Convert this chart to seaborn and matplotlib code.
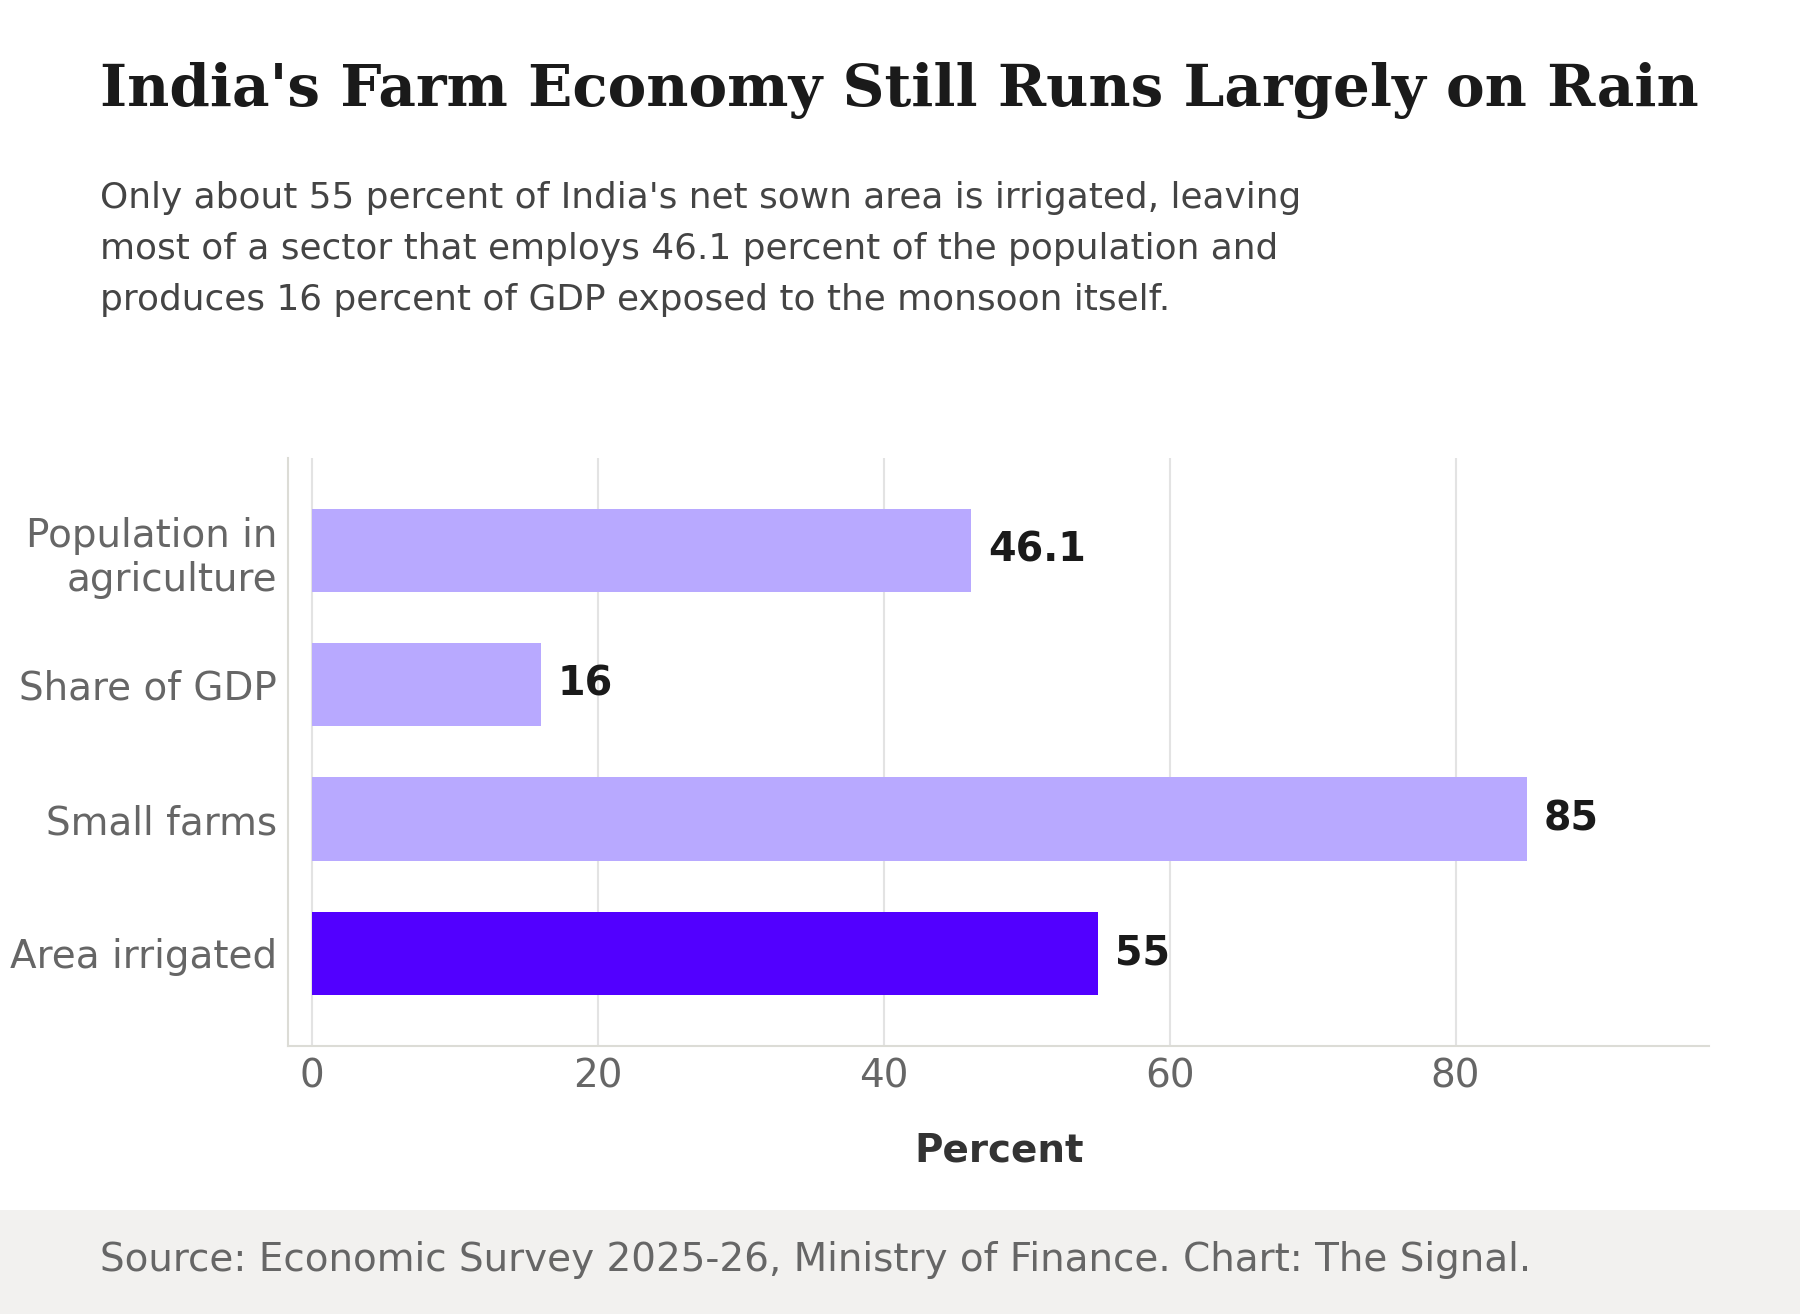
import pandas as pd
import matplotlib.pyplot as plt
import seaborn as sns
from matplotlib.patches import Rectangle

# data
categories = ["Population in\nagriculture", "Share of GDP", "Small farms", "Area irrigated"]
values = [46.1, 16, 85, 55]
highlight = [False, False, False, True]

LIGHT = "#b8a9ff"
DARK = "#5200ff"

sns.set_theme(style="white")
plt.rcParams["font.family"] = ["DejaVu Sans"]

df = pd.DataFrame({"metric": categories, "value": values,
                   "group": ["hi" if h else "lo" for h in highlight]})

fig = plt.figure(figsize=(18, 13.14), dpi=100)
ax = fig.add_axes([0.160, 0.204, 0.7896, 0.4475])

sns.barplot(data=df, x="value", y="metric", hue="group",
            palette={"lo": LIGHT, "hi": DARK}, width=0.62,
            dodge=False, legend=False, ax=ax, saturation=1, linewidth=0)

# etiquetas de valor al final de cada barra
for cont in ax.containers:
    labs = []
    for bar in cont:
        w = bar.get_width()
        labs.append(f"{w:g}" if w == w else "")
    ax.bar_label(cont, labels=labs, padding=12, fontsize=28.5,
                 fontweight="bold", color="#1a1a1a")

ax.set_xlim(-1.7, 97.75)
ax.set_ylim(3.69, -0.69)
ax.set_xticks([0, 20, 40, 60, 80])
ax.grid(axis="x", color="#e3e3e3", linewidth=1.5)
ax.grid(axis="y", visible=False)
ax.set_axisbelow(True)
for s in ["top", "right"]:
    ax.spines[s].set_visible(False)
for s in ["left", "bottom"]:
    ax.spines[s].set_color("#dcdcd6")
    ax.spines[s].set_linewidth(1.5)
ax.tick_params(axis="both", length=0, labelsize=28, colors="#666666")
ax.tick_params(axis="x", pad=8)
ax.tick_params(axis="y", pad=8)
ax.set_ylabel("")
ax.set_xlabel("Percent", fontsize=28, fontweight="bold", color="#333333", labelpad=26)

fig.text(0.0555, 0.9196, "India's Farm Economy Still Runs Largely on Rain",
         family="DejaVu Serif", fontweight="bold", fontsize=41.8,
         color="#1a1a1a", va="baseline")
fig.text(0.0555, 0.8625,
         "Only about 55 percent of India's net sown area is irrigated, leaving\n"
         "most of a sector that employs 46.1 percent of the population and\n"
         "produces 16 percent of GDP exposed to the monsoon itself.",
         fontsize=25.8, color="#444444", va="top", linespacing=1.63)

# banda gris del pie
fig.patches.append(Rectangle((0, 0), 1, 0.0791, transform=fig.transFigure,
                             facecolor="#f2f1ef", edgecolor="none", zorder=0))
fig.text(0.0555, 0.041, "Source: Economic Survey 2025-26, Ministry of Finance. Chart: The Signal.",
         fontsize=28, color="#666666", va="center")

fig.savefig("out.png", dpi=100)
